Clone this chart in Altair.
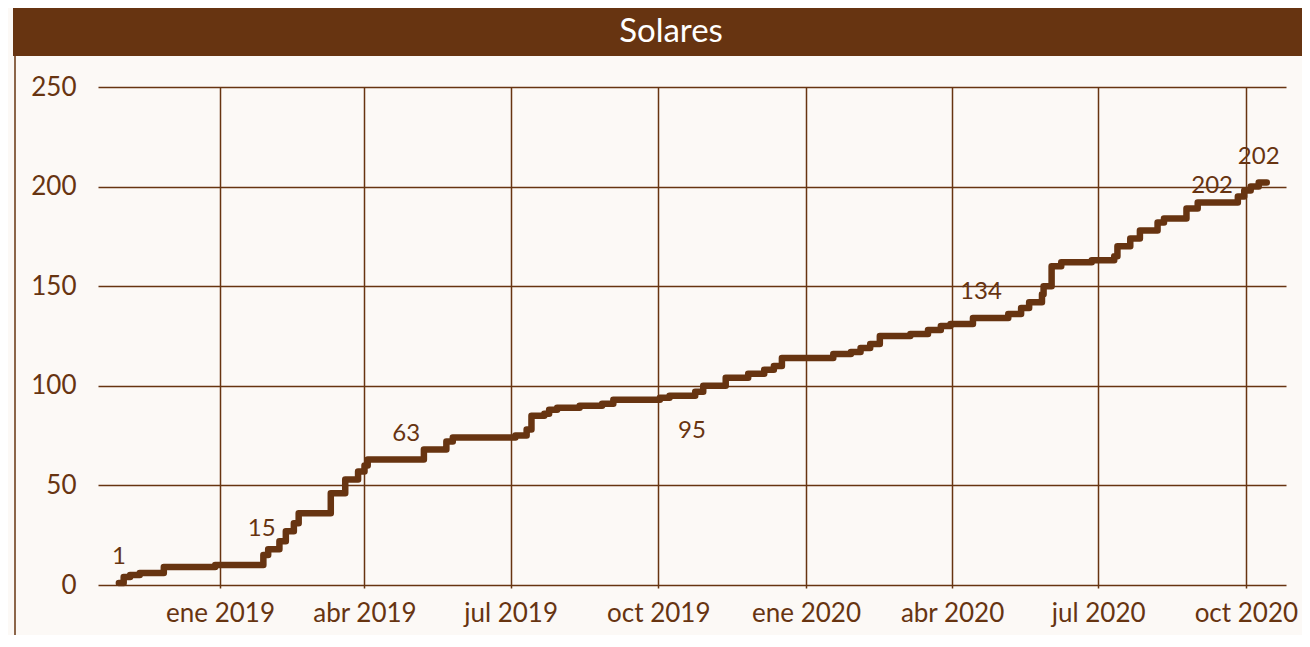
import altair as alt
import pandas as pd

# ---- data ----
fechas = [
    "2018-10-30", "2018-11-02", "2018-11-06", "2018-11-12", "2018-11-27", "2018-12-29",
    "2019-01-28", "2019-01-31", "2019-02-07", "2019-02-11", "2019-02-16", "2019-02-19",
    "2019-03-11", "2019-03-20", "2019-03-28", "2019-04-01", "2019-04-03", "2019-05-08",
    "2019-05-22", "2019-05-26", "2019-07-04", "2019-07-11", "2019-07-14", "2019-07-22",
    "2019-07-25", "2019-07-30", "2019-08-13", "2019-08-27", "2019-09-03", "2019-10-02",
    "2019-10-08", "2019-10-24", "2019-10-29", "2019-11-12", "2019-11-26", "2019-12-06",
    "2019-12-12", "2019-12-17", "2020-01-18", "2020-01-29", "2020-02-04", "2020-02-10",
    "2020-02-16", "2020-03-06", "2020-03-17", "2020-03-25", "2020-03-31", "2020-04-14",
    "2020-05-06", "2020-05-14", "2020-05-19", "2020-05-27", "2020-05-28", "2020-06-02",
    "2020-06-08", "2020-06-27", "2020-07-11", "2020-07-13", "2020-07-21", "2020-07-27",
    "2020-08-07", "2020-08-11", "2020-08-25", "2020-09-01", "2020-09-26", "2020-09-30",
    "2020-10-04", "2020-10-09", "2020-10-14",
]
solares = [
    1, 4, 5, 6, 9, 10,
    15, 18, 22, 27, 31, 36,
    46, 53, 57, 60, 63, 68,
    72, 74, 75, 78, 85, 86,
    88, 89, 90, 91, 93, 94,
    95, 97, 100, 104, 106, 108,
    110, 114, 116, 117, 119, 121,
    125, 126, 128, 130, 131, 134,
    136, 139, 142, 146, 150, 160,
    162, 163, 165, 170, 174, 178,
    182, 184, 189, 192, 195, 198,
    200, 202, 202,
]

etiqueta_fechas = ["2018-10-30", "2019-01-27", "2019-04-27", "2019-10-22", "2020-04-19", "2020-09-10", "2020-10-09"]
etiqueta_valores = [1, 15, 63, 95, 134, 202, 202]
etiqueta_pos = ["arriba", "arriba", "arriba", "abajo", "arriba", "medio", "arriba"]

y_ticks = [0, 50, 100, 150, 200, 250]

BROWN = "#673411"
BG = "#FCF9F6"
FONT = "Lato"

df = pd.DataFrame({"fecha": fechas, "solares": solares})
lab = pd.DataFrame({
    "fecha": etiqueta_fechas,
    "valor": etiqueta_valores,
    "texto": [str(v) for v in etiqueta_valores],
    "pos": etiqueta_pos,
})
one = pd.DataFrame({"k": [0]})

x_values = [alt.DateTime(year=y, month=m, date=1, utc=True)
            for (y, m) in [(2019, 1), (2019, 4), (2019, 7), (2019, 10),
                           (2020, 1), (2020, 4), (2020, 7), (2020, 10)]]

x_enc = alt.X(
    "fecha:T",
    scale=alt.Scale(type="utc",
                    domain=[alt.DateTime(year=2018, month=10, date=17, utc=True),
                            alt.DateTime(year=2020, month=10, date=26, utc=True)]),
    axis=alt.Axis(
        values=x_values,
        labelExpr="['ene','feb','mar','abr','may','jun','jul','ago','sep','oct','nov','dic'][utcmonth(datum.value)] + ' ' + utcyear(datum.value)",
        title=None, grid=True, gridColor=BROWN, gridWidth=1.5, gridOpacity=1,
        domain=False, ticks=True, tickColor=BROWN, tickSize=3, tickWidth=1.5,
        labelFont=FONT, labelFontSize=26, labelColor=BROWN, labelPadding=12,
        labelOverlap=False, labelFlush=False,
    ),
)
y_enc = alt.Y(
    "solares:Q",
    scale=alt.Scale(domain=[0, 250], nice=False),
    axis=alt.Axis(
        values=y_ticks, title=None, grid=True, gridColor=BROWN, gridWidth=1.5, gridOpacity=1,
        domain=False, ticks=False, labelFont=FONT, labelFontSize=26, labelColor=BROWN,
        labelPadding=22,
    ),
)

line = alt.Chart(df).mark_line(
    interpolate="step-after", strokeWidth=6.5, color=BROWN, strokeCap="round", strokeJoin="round"
).encode(x=x_enc, y=y_enc)

def labels(pos, dy):
    return alt.Chart(lab).transform_filter(alt.datum.pos == pos).mark_text(
        font=FONT, fontSize=24, color=BROWN, baseline="middle", align="center", dy=dy
    ).encode(x="fecha:T", y="valor:Q", text="texto:N")

title_bar = alt.Chart(one).mark_rect(color=BROWN).encode(
    x=alt.value(-85), x2=alt.value(1220), y=alt.value(-82), y2=alt.value(-31)
)
left_border = alt.Chart(one).mark_rule(color=BROWN, strokeWidth=1.5).encode(
    x=alt.value(-83), y=alt.value(-31), y2=alt.value(570)
)
title_text = alt.Chart(one).mark_text(
    text="Solares", color="white", font=FONT, fontSize=33, baseline="middle", align="center"
).encode(x=alt.value(573), y=alt.value(-55))

chart = alt.layer(
    title_bar, left_border, title_text, line,
    labels("arriba", -26), labels("abajo", 35), labels("medio", 3),
).properties(
    width=1188, height=498,
    autosize=alt.AutoSizeParams(type="none"),
    padding={"left": 90, "top": 79, "right": 16, "bottom": 50},
    background=BG,
).configure_view(stroke=None)

chart.save("out.html", embed_options={"renderer": "svg", "actions": False})
